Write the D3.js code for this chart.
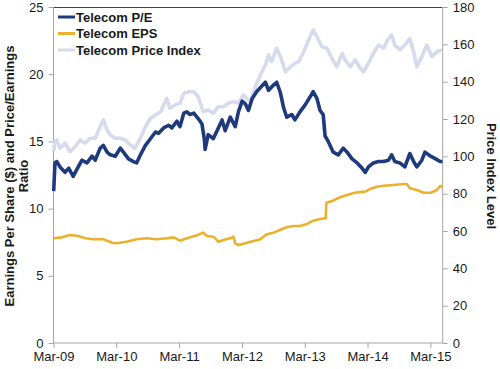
<!DOCTYPE html>
<html><head><meta charset="utf-8">
<script src="https://cdn.jsdelivr.net/npm/d3@7"></script>
<style>
html,body{margin:0;padding:0;background:#fff;}
svg{display:block;font-family:"Liberation Sans",Arial,sans-serif;}
</style></head>
<body><svg id="c" width="500" height="369"></svg>
<script>
// ---- data (decimal year, value) ----
const peYears = [2009.17,2009.19,2009.22,2009.27,2009.35,2009.41,2009.48,2009.56,2009.62,2009.70,2009.78,2009.83,2009.91,2009.96,2010.02,2010.07,2010.15,2010.23,2010.28,2010.36,2010.44,2010.49,2010.55,2010.63,2010.71,2010.79,2010.84,2010.92,2011.00,2011.05,2011.13,2011.18,2011.24,2011.29,2011.34,2011.40,2011.47,2011.53,2011.57,2011.58,2011.63,2011.71,2011.77,2011.85,2011.90,2011.98,2012.06,2012.11,2012.17,2012.22,2012.27,2012.33,2012.40,2012.48,2012.54,2012.59,2012.67,2012.72,2012.78,2012.83,2012.88,2012.96,2013.01,2013.09,2013.17,2013.25,2013.30,2013.36,2013.41,2013.46,2013.49,2013.54,2013.62,2013.70,2013.78,2013.84,2013.92,2014.00,2014.08,2014.13,2014.18,2014.26,2014.34,2014.42,2014.50,2014.55,2014.60,2014.68,2014.76,2014.84,2014.90,2014.95,2015.03,2015.08,2015.17,2015.25,2015.32,2015.36];
const peValues = [11.3,13.4,13.5,13.1,12.7,13.0,12.4,13.1,13.6,13.4,13.9,13.6,14.5,14.7,14.2,14.0,13.9,14.5,14.2,13.7,13.5,13.4,14.0,14.7,15.2,15.7,15.6,16.0,16.2,16.0,16.5,16.1,17.1,17.2,17.0,17.1,16.7,16.3,15.1,14.4,15.5,15.2,15.8,16.6,15.8,16.8,16.1,17.2,18.0,17.8,17.3,18.2,18.7,19.1,19.4,18.8,19.2,19.4,18.6,17.5,16.8,17.0,16.6,17.2,17.7,18.3,18.7,18.2,17.3,17.0,15.4,15.0,14.2,14.0,14.5,14.2,13.7,13.4,13.0,12.7,13.1,13.4,13.5,13.5,13.6,14.0,13.5,13.4,13.1,14.1,13.5,13.1,13.6,14.2,13.9,13.7,13.5,13.5];

const epsYears = [2009.17,2009.30,2009.43,2009.56,2009.67,2009.80,2009.96,2010.10,2010.18,2010.33,2010.49,2010.65,2010.81,2010.97,2011.08,2011.18,2011.29,2011.45,2011.55,2011.61,2011.71,2011.79,2011.87,2011.98,2012.03,2012.06,2012.11,2012.22,2012.30,2012.46,2012.56,2012.67,2012.80,2012.88,2012.99,2013.09,2013.20,2013.30,2013.41,2013.50,2013.51,2013.60,2013.73,2013.89,2014.00,2014.13,2014.21,2014.31,2014.42,2014.58,2014.74,2014.79,2014.84,2014.95,2015.06,2015.17,2015.27,2015.32,2015.36];
const epsValues = [7.79,7.86,8.04,7.96,7.79,7.72,7.72,7.46,7.42,7.54,7.72,7.79,7.72,7.79,7.86,7.61,7.79,8.01,8.21,7.96,7.91,7.54,7.66,7.79,7.91,7.42,7.29,7.42,7.54,7.72,8.09,8.21,8.46,8.61,8.71,8.71,8.85,9.10,9.23,9.28,10.44,10.57,10.84,11.09,11.21,11.26,11.46,11.63,11.70,11.76,11.83,11.83,11.51,11.38,11.18,11.18,11.38,11.68,11.60];

const priceYears = [2009.17,2009.19,2009.22,2009.27,2009.35,2009.43,2009.51,2009.59,2009.67,2009.75,2009.83,2009.91,2009.96,2010.02,2010.07,2010.15,2010.23,2010.31,2010.39,2010.46,2010.55,2010.63,2010.71,2010.79,2010.87,2010.97,2011.02,2011.10,2011.18,2011.24,2011.32,2011.40,2011.47,2011.55,2011.63,2011.71,2011.79,2011.87,2011.95,2012.03,2012.11,2012.19,2012.27,2012.30,2012.38,2012.46,2012.54,2012.59,2012.64,2012.72,2012.78,2012.86,2012.94,2013.01,2013.07,2013.15,2013.23,2013.30,2013.36,2013.44,2013.52,2013.60,2013.68,2013.76,2013.81,2013.89,2013.97,2014.05,2014.10,2014.18,2014.26,2014.34,2014.42,2014.50,2014.55,2014.60,2014.68,2014.76,2014.84,2014.90,2014.95,2015.03,2015.11,2015.19,2015.27,2015.35];
const priceValues = [103,108,108.7,104.3,107,102.5,105.2,108.7,107,109.7,109.7,115.9,119.5,114.1,111.4,109.7,109.7,108.7,106.1,104.3,109.7,115.9,120.4,122.1,123.9,131,125.7,127.5,128.4,133.8,134.6,134.6,131.9,123.9,124.8,123,126.6,126.6,128.4,129.3,128.4,132.9,130.2,129.3,137.3,143.6,148.9,154.3,150.7,157.9,153.4,145.3,148,149.8,150.7,156,162.3,167.7,164.1,158.7,157.9,152.5,148,155.2,151.6,148,151.6,147.2,145.3,149.8,155.2,159.6,157.9,163.2,165,159.6,157,159.6,163.2,156,148,153.4,159.6,153.4,156,157];

const xTickLabels = ["Mar-09","Mar-10","Mar-11","Mar-12","Mar-13","Mar-14","Mar-15"];
const leftTicks = [0,5,10,15,20,25];
const rightTicks = [0,20,40,60,80,100,120,140,160,180];
const seriesNames = ["Telecom P/E","Telecom EPS","Telecom Price Index"];
const seriesColors = ["#1f3a7c","#ebb02c","#d6daec"];

// ---- helpers ----
const base = new Date(2009,2,1);
function toDate(y){ return new Date(base.getTime() + (y - 2009.1667)*365.25*86400000); }

const svg = d3.select("#c");
const L = 53.5, R = 442.7, T = 7, B = 343;

const x = d3.scaleTime().domain([new Date(2009,2,1), new Date(2015,4,12)]).range([L, R]);
const yL = d3.scaleLinear().domain([0,25]).range([B, T]);
const yR = d3.scaleLinear().domain([0,180]).range([B, T]);

const axisColor = "#a6a6a6";
// top border
svg.append("line").attr("x1",L).attr("x2",R).attr("y1",T+0.5).attr("y2",T+0.5).attr("stroke","#404040").attr("stroke-width",1);

const gL = svg.append("g").attr("transform",`translate(${L},0)`)
  .call(d3.axisLeft(yL).tickValues(leftTicks).tickSize(5).tickPadding(5).tickFormat(d3.format("d")));
const gR = svg.append("g").attr("transform",`translate(${R},0)`)
  .call(d3.axisRight(yR).tickValues(rightTicks).tickSize(5).tickPadding(5).tickFormat(d3.format("d")));
const xTickDates = xTickLabels.map((s,i)=>new Date(2009+i,2,1));
const gB = svg.append("g").attr("transform",`translate(0,${B})`)
  .call(d3.axisBottom(x).tickValues(xTickDates).tickSize(5).tickPadding(4).tickFormat((d,i)=>xTickLabels[i]));

[gL,gR,gB].forEach(g=>{
  g.select(".domain").attr("stroke",axisColor);
  g.selectAll(".tick line").attr("stroke",axisColor);
  g.selectAll("text").attr("fill","#1a1a1a").style("font-size","13px").style("font-family","'Liberation Sans',Arial,sans-serif");
});
gL.select(".domain").attr("d",`M0,${T}V${B}`);
gR.select(".domain").attr("d",`M0,${T}V${B}`);
gB.select(".domain").attr("d",`M${L},0H${R}`);

function mk(years, vals){ return years.map((y,i)=>({d:toDate(y), v:vals[i]})); }
const lineL = d3.line().x(p=>x(p.d)).y(p=>yL(p.v));
const lineR = d3.line().x(p=>x(p.d)).y(p=>yR(p.v));

svg.append("path").datum(mk(priceYears,priceValues)).attr("d",lineR)
  .attr("fill","none").attr("stroke",seriesColors[2]).attr("stroke-width",3.6).attr("stroke-linejoin","round");
svg.append("path").datum(mk(peYears,peValues)).attr("d",lineL)
  .attr("fill","none").attr("stroke",seriesColors[0]).attr("stroke-width",3.6).attr("stroke-linejoin","round");
svg.append("path").datum(mk(epsYears,epsValues)).attr("d",lineL)
  .attr("fill","none").attr("stroke",seriesColors[1]).attr("stroke-width",2.6).attr("stroke-linejoin","round");

// legend
const lg = svg.append("g");
seriesNames.forEach((n,i)=>{
  const yy = 17 + i*16.5;
  lg.append("line").attr("x1",58).attr("x2",75).attr("y1",yy).attr("y2",yy)
    .attr("stroke",seriesColors[i]).attr("stroke-width",3);
  lg.append("text").attr("x",76).attr("y",yy+4.5).text(n)
    .style("font-size","13px").style("font-weight","bold").attr("fill","#1a1a1a");
});

// axis titles
const tl = svg.append("text").attr("transform","translate(13.5,176) rotate(-90)")
  .attr("text-anchor","middle").style("font-size","13px").style("font-weight","bold").attr("fill","#1a1a1a");
tl.append("tspan").attr("x",0).attr("dy",0).text("Earnings Per Share ($) and Price/Earnings");
tl.append("tspan").attr("x",0).attr("dy",14).text("Ratio");

svg.append("text").attr("transform","translate(486.5,176) rotate(90)")
  .attr("text-anchor","middle").style("font-size","13px").style("font-weight","bold").attr("fill","#1a1a1a")
  .text("Price Index Level");
</script></body></html>
